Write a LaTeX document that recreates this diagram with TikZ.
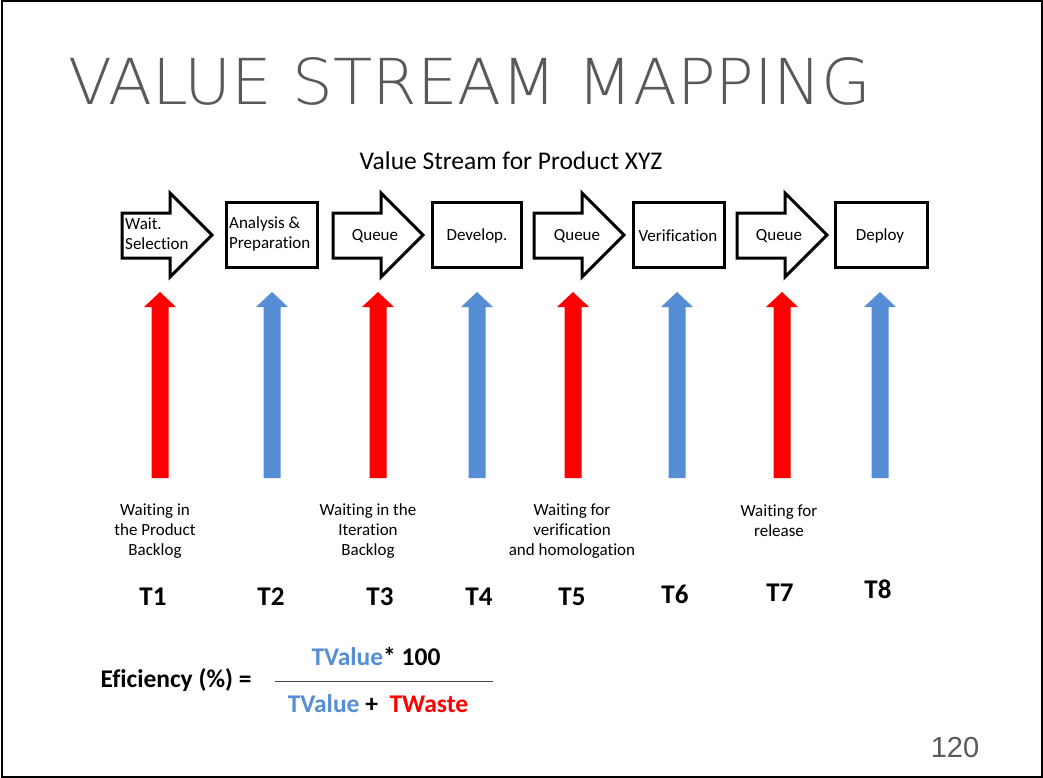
\documentclass[tikz,border=0pt]{standalone}
\usepackage{fontspec}
\setmainfont{Carlito}[Ligatures=NoCommon]
\newfontfamily\titlefont{DejaVu Sans ExtraLight}
\newfontfamily\numfont{Liberation Sans}
\definecolor{vsred}{RGB}{255,0,0}
\definecolor{vsblue}{RGB}{85,142,213}
\definecolor{vsgray}{RGB}{89,89,89}
\tikzset{
  flowbox/.style={draw=black,line width=3pt,fill=white},
  flowarrow/.style={draw=black,line width=3pt,fill=white,line join=miter},
  boxtext/.style={font=\fontsize{17}{20}\selectfont,inner sep=0pt},
  lbl/.style={font=\fontsize{17}{20}\selectfont,align=center,inner sep=0pt},
  tlbl/.style={font=\bfseries\fontsize{27}{30}\selectfont,inner sep=0pt},
  frm/.style={font=\bfseries\fontsize{25.5}{28}\selectfont,inner sep=0pt},
}
\begin{document}
\begin{tikzpicture}[x=1pt,y=-1pt]
\useasboundingbox (0,0) rectangle (1043,778);
\draw[line width=2pt] (1.5,1.5) rectangle (1041.5,776.5);
% title
\node[anchor=west,inner sep=0pt,text=vsgray] (title) at (68,81)
  {\titlefont\resizebox{803pt}{47pt}{\fontsize{40}{40}\selectfont VALUE STREAM MAPPING}};
\node[font=\fontsize{25.5}{28}\selectfont,inner sep=0pt] (sub) at (511,161) {Value Stream for Product XYZ};
% horizontal block arrows
\foreach \L/\n in {122/a1,333/a3,534/a5,737/a7}{
  \draw[flowarrow] (\L,213) -- (\L+48,213) -- (\L+48,193) -- (\L+90,235)
     -- (\L+48,277) -- (\L+48,258) -- (\L,258) -- cycle;
}
% boxes
\foreach \L/\R/\n in {226/317/b2,432/521/b4,633/724/b6,835/927/b8}{
  \draw[flowbox] (\L,202) rectangle (\R,267);
}
\node[boxtext,anchor=west,align=left] (t1) at (125,234) {Wait.\\Selection};
\node[boxtext,anchor=west,align=left] (t2) at (229,234) {Analysis \&\\Preparation};
\node[boxtext] (t3) at (375,236) {Queue};
\node[boxtext] (t4) at (477,236) {Develop.};
\node[boxtext] (t5) at (577,236) {Queue};
\node[boxtext] (t6) at (678,236) {Verification};
\node[boxtext] (t7) at (779,236) {Queue};
\node[boxtext] (t8) at (880,236) {Deploy};
% vertical block arrows
\foreach \X/\c in {160/vsred,272/vsblue,378/vsred,477/vsblue,573/vsred,677/vsblue,782/vsred,880/vsblue}{
  \fill[\c] (\X-8.5,478) -- (\X-8.5,307) -- (\X-16,307) -- (\X,292)
     -- (\X+16,307) -- (\X+8.5,307) -- (\X+8.5,478) -- cycle;
}
% labels
\node[lbl] (w1) at (155,531) {Waiting in\\the Product\\Backlog};
\node[lbl] (w3) at (368,531) {Waiting in the\\Iteration\\Backlog};
\node[lbl] (w5) at (572,531) {Waiting for\\verification\\and homologation};
\node[lbl] (w7) at (779,521) {Waiting for\\release};
% T labels
\node[tlbl] (T1) at (153,597) {T1};
\node[tlbl] (T2) at (271,597) {T2};
\node[tlbl] (T3) at (380,597) {T3};
\node[tlbl] (T4) at (479,597) {T4};
\node[tlbl] (T5) at (572,597) {T5};
\node[tlbl] (T6) at (675,594) {T6};
\node[tlbl] (T7) at (780,593) {T7};
\node[tlbl] (T8) at (878,589) {T8};
% formula
\node[frm] (eff) at (176,680) {Eficiency (\%) =};
\draw[line width=1pt,draw=vsgray!80!black] (275,681) coordinate (fl) -- (493,681) coordinate (fr);
\node[frm] (num) at (376,656) {\textcolor{vsblue}{TValue}* 100};
\node[frm] (den) at (378,704) {\textcolor{vsblue}{TValue} + \ \textcolor{vsred}{TWaste}};
% page number
\node[text=vsgray,font=\numfont\fontsize{29}{32}\selectfont,inner sep=0pt] (pg) at (955,748) {120};
\end{tikzpicture}
\end{document}
